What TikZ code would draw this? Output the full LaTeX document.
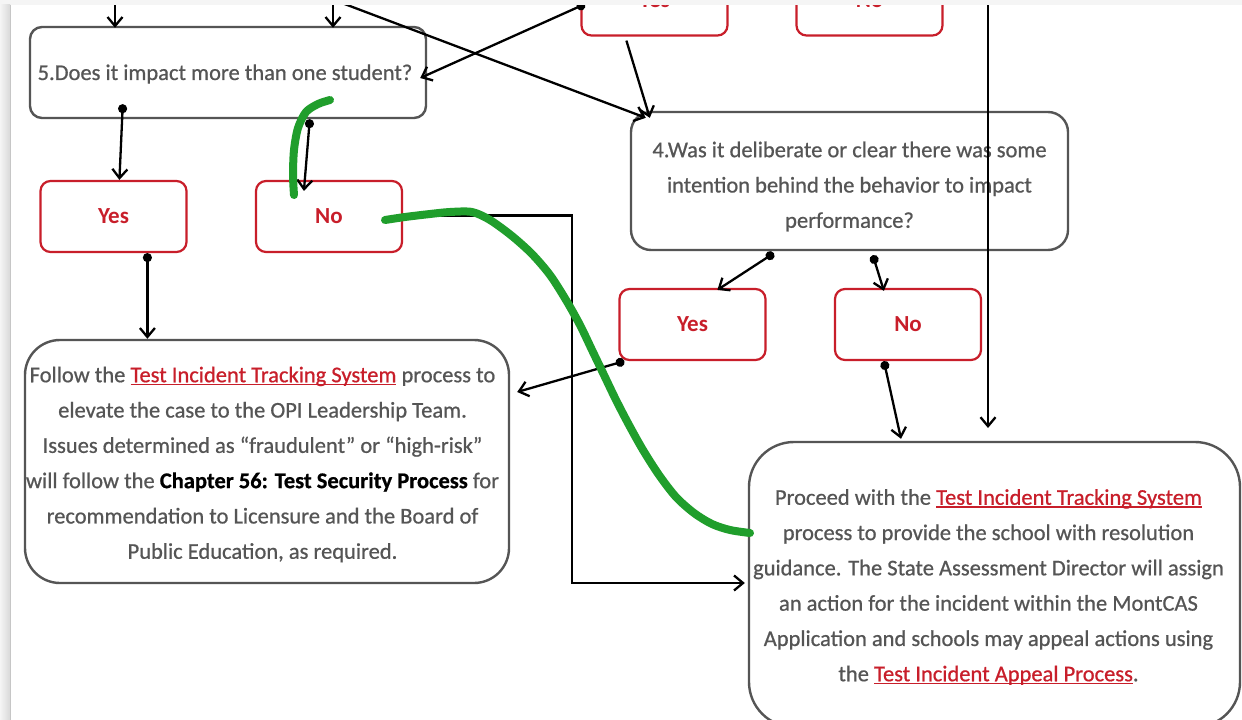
\documentclass[tikz,border=0pt]{standalone}
\usepackage{fontspec}
\setmainfont{Carlito}
\newfontfamily\heavy{Carlito}[FakeBold=0.7]
\usetikzlibrary{arrows.meta}
\definecolor{rd}{RGB}{200,30,42}
\definecolor{gtx}{RGB}{85,85,85}
\definecolor{gbd}{RGB}{85,85,85}
\definecolor{grn}{RGB}{32,158,44}
\newcommand\lnk[1]{{\color{rd}\setbox0\hbox{#1}\rlap{\rule[-2.8pt]{\wd0}{1.3pt}}\box0}}
\begin{document}
\begin{tikzpicture}[x=1pt,y=-1pt,
 gbox/.style={draw=gbd, line width=2.4pt, fill=white, inner sep=0pt},
 gtext/.style={text=gtx, align=center, inner sep=0pt, font=\heavy\fontsize{22.5}{35.3}\selectfont},
 rbox/.style={draw=rd, line width=2.2pt, fill=white, text=rd, rounded corners=10pt, minimum width=146pt, minimum height=71pt, inner sep=0pt, font=\fontsize{23}{26}\selectfont\bfseries},
 conn/.style={line width=2.3pt, black, -{Straight Barb[length=9pt,width=15pt]}},
 dconn/.style={line width=2.3pt, black, {Circle[length=9pt]}-{Straight Barb[length=9pt,width=15pt]}},
 hand/.style={grn, line width=8pt, line cap=round, line join=round},
]
\useasboundingbox (0,0) rectangle (1242,720);
\fill[white] (0,0) rectangle (1242,720);

% boxes
\node[gbox, rounded corners=12pt, minimum width=396pt, minimum height=91pt] (q5) at (228,72.5) {};
\node[gtext] (q5t) at ([xshift=-3pt,yshift=-1.5pt]q5.center) {5.Does it impact more than one student?};
\node[rbox] (q5yes) at (113.5,216.5) {Yes};
\node[rbox] (q5no) at (329,216.5) {No};
\node[rbox] (topyes) at (654.5,0) {Yes};
\node[rbox] (topno) at (869.5,0) {No};
\node[gbox, rounded corners=20pt, minimum width=437pt, minimum height=138pt] (q4) at (849.5,181) {};
\node[gtext] (q4t) at ([yshift=-5.5pt]q4.center)
 {4.Was it deliberate or clear there was some\\intention behind the behavior to impact\\performance?};
\node[rbox] (q4yes) at (692.5,324.5) {Yes};
\node[rbox] (q4no) at (908,324.5) {No};
\node[gbox, rounded corners=35pt, minimum width=484pt, minimum height=243pt] (fol) at (267,461.5) {};
\node[gtext] (folt) at ([xshift=-4.5pt,yshift=-3pt]fol.center)
 {Follow the \lnk{Test Incident Tracking System} process to\\
  elevate the case to the OPI Leadership Team.\\
  Issues determined as “fraudulent” or “high-risk”\\
  will follow the \textcolor{black}{\bfseries Chapter 56: Test Security Process} for\\
  recommendation to Licensure and the Board of\\
  Public Education, as required.};
\node[gbox, rounded corners=45pt, minimum width=491pt, minimum height=285pt] (proc) at (994.5,584.5) {};
\node[gtext] (proct) at ([xshift=-6pt,yshift=-2.5pt]proc.center)
 {Proceed with the \lnk{Test Incident Tracking System}\\
  process to provide the school with resolution\\
  guidance. The State Assessment Director will assign\\
  an action for the incident within the MontCAS\\
  Application and schools may appeal actions using\\
  the \lnk{Test Incident Appeal Process}.};

% free ends
\coordinate (s1) at (115,0);
\coordinate (s2) at (333,0);
\coordinate (s3) at (585,4);
\coordinate (s4) at (988,0);
\coordinate (e4) at (988,428);
\coordinate (k1) at (572,215.5);
\coordinate (k2) at (572,583);

% connectors
\draw[conn] (s1) -- ([yshift=-2pt]s1 |- q5.north);
\draw[conn] (s2) -- ([yshift=-2pt]s2 |- q5.north);
\draw[conn] ([xshift=1pt]s2) -- ([xshift=16pt,yshift=-7pt]q4.north west);
\draw[conn] ([xshift=46pt,yshift=-4pt]topyes.south west) -- ([xshift=20pt,yshift=-7pt]q4.north west);
\draw[dconn] (s3) -- ([xshift=-7pt,yshift=-5.5pt]q5.east);
\draw[conn] (s4) -- (e4);
\draw[dconn] ([xshift=94pt,yshift=15pt]q5.south west) -- ([xshift=80pt]q5yes.north west);
\draw[dconn] ([xshift=281pt]q5.south west) -- ([xshift=49pt,yshift=-11pt]q5no.north west);
\draw[dconn] ([xshift=108pt]q5yes.south west) -- ([xshift=108pt]q5yes.south west |- fol.north);
\draw[conn] ([yshift=1pt]q5no.east) -- (k1) -- (k2) -- ([xshift=-3pt]k2 -| proc.west);
\draw[dconn] ([xshift=144pt,yshift=-2pt]q4.south west) -- ([xshift=99pt,yshift=-2pt]q4yes.north west);
\draw[dconn] ([xshift=243pt,yshift=-4pt]q4.south west) -- ([xshift=50pt,yshift=-3pt]q4no.north west);
\draw[dconn] ([xshift=6pt]q4yes.south west) -- ([xshift=7pt,yshift=69.5pt]fol.east);
\draw[dconn] ([xshift=50pt]q4no.south west) -- ([xshift=-93.5pt,yshift=2pt]proc.north);

% hand-drawn green strokes
\draw[hand] plot[smooth] coordinates {(330,100) (318,104) (306,112) (298,128) (294,150) (293,175) (294,195)};
\draw[hand] plot[smooth] coordinates {(385,220) (405,217) (430,214) (450,212) (472,212) (490,220) (512,236) (532,254) (550,275) (566,300) (580,325) (592,350) (604,375) (616,400) (629,425) (643,450) (659,475) (676,497) (694,513) (712,524) (730,530) (750,533)};

% page frame
\fill[gray!8] (0,0) rectangle (1242,4.5);
\shade[left color=gray!8, right color=gray!30] (0,4.5) rectangle (10,720);
\draw[gray!45, line width=0.8pt] (10.4,4.5) -- (10.4,720);
\end{tikzpicture}
\end{document}
